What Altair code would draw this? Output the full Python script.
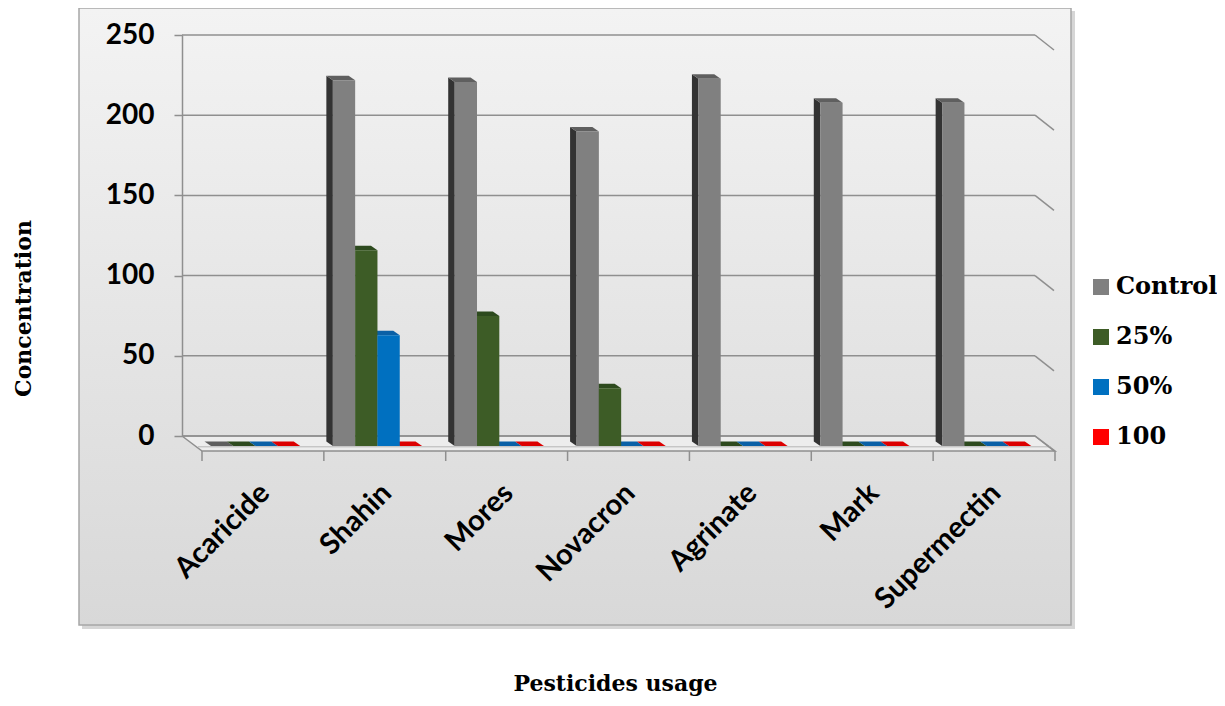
import altair as alt
import pandas as pd

# ---- data ----
categories = ["Acaricide", "Shahin", "Mores", "Novacron", "Agrinate", "Mark", "Supermectin"]
series = ["Control", "25%", "50%", "100"]
control = [0, 228, 227, 196, 229, 214, 214]
p25 = [0, 122, 81, 36, 0, 0, 0]
p50 = [0, 69, 0, 0, 0, 0, 0]
p100 = [0, 0, 0, 0, 0, 0, 0]
y_ticks = [0, 50, 100, 150, 200, 250]

front_colors = ["#808080", "#3d5c26", "#0070c0", "#ff0000"]
top_colors = ["#5f5f5f", "#2d4a1e", "#0a60a6", "#dc0000"]
side_colors = ["#333333", "#263a18", "#05477a", "#a00000"]

# ---- 3D geometry (pixel depths converted to scale units) ----
PX_X = 853 / 7.0      # px per category unit
PX_Y = 401 / 250.0    # px per value unit
bar_w = 22.3 / PX_X
grp0 = 29.0 / PX_X    # first bar front edge inside its category
side_dx = 6.5 / PX_X
side_dz = 4.5 / PX_Y
base = -10.0 / PX_Y   # front base of the bars (in front of back wall)
floor_dx = 20.0 / PX_X
floor_dz = 15.0 / PX_Y

values = [control, p25, p50, p100]
front_rows, side_rows, top_rows = [], [], []
for s, name in enumerate(series):
    for i, cat in enumerate(categories):
        v = values[s][i]
        x0 = i + grp0 + s * bar_w
        x1 = x0 + bar_w
        top = base + v
        bid = f"{s}-{i}"
        front_rows.append(dict(cat=cat, series=name, x=x0, x2=x1, y=base, y2=top))
        side_rows.append(dict(id=bid, c=side_colors[s], x=x0 - side_dx, y=base + side_dz, y2=top + side_dz))
        side_rows.append(dict(id=bid, c=side_colors[s], x=x0, y=base, y2=top))
        top_rows.append(dict(id=bid, c=top_colors[s], y=top, x=x0, x2=x1))
        top_rows.append(dict(id=bid, c=top_colors[s], y=top + side_dz, x=x0 - side_dx, x2=x1 - side_dx))

front_df = pd.DataFrame(front_rows)
side_df = pd.DataFrame(side_rows)
top_df = pd.DataFrame(top_rows)

n = len(categories)
grid_df = pd.DataFrame({"v": y_ticks})
grid_df["x"] = 0.0
grid_df["x2"] = float(n)
stub_df = pd.DataFrame({"v": y_ticks})
stub_df["x"] = float(n)
stub_df["x2"] = n + floor_dx * 0.95
stub_df["v2"] = stub_df["v"] - floor_dz

floor_df = pd.DataFrame({"y": [0.0, -floor_dz], "xl": [0.0, floor_dx], "xr": [float(n), n + floor_dx]})
floor_line = pd.DataFrame({
    "x": [0.0, float(n), n + floor_dx, floor_dx, 0.0],
    "y": [0.0, 0.0, -floor_dz, -floor_dz, 0.0],
    "o": [0, 1, 2, 3, 4],
})
front_edge = pd.DataFrame({"x": [floor_dx * 0.8], "x2": [n + floor_dx * 0.8], "y": [-floor_dz * 0.72]})
cat_ticks = pd.DataFrame({"x": [i + floor_dx for i in range(n + 1)]})
cat_ticks["y"] = -floor_dz
cat_ticks["y2"] = -floor_dz - 10.0 / PX_Y

one = pd.DataFrame({"a": [0]})

xs = alt.Scale(domain=[0, n], nice=False, zero=False)
ys = alt.Scale(domain=[0, 250], nice=False, zero=False)
GRID = "#8f8f8f"

label_expr = "[" + ",".join(f"'{c}'" for c in categories) + "][floor(datum.value)]"
XAXIS = alt.Axis(values=[i + 0.675 for i in range(n)], labelExpr=label_expr,
                 ticks=False, domain=False, grid=False, labelAngle=-45,
                 labelAlign="right", labelBaseline="middle", labelPadding=52,
                 labelFont="Lato", labelFontWeight="bold", labelFontSize=29,
                 labelColor="black", labelOverlap=False, labelFlush=False,
                 title="Pesticides usage", titleFont="DejaVu Serif",
                 titleFontWeight="bold", titleFontSize=22, titleColor="black",
                 titleX=433, titleY=254, titleAlign="center",
                 titleBaseline="alphabetic", zindex=1)
YAXIS = alt.Axis(values=y_ticks, grid=False, domain=True, domainColor=GRID,
                 domainWidth=1.5, tickSize=8, tickColor=GRID, tickWidth=1.5,
                 labelFont="Lato", labelFontWeight="bold", labelFontSize=28,
                 labelColor="black", labelPadding=20,
                 title="Concentration", titleFont="DejaVu Serif",
                 titleFontWeight="bold", titleFontSize=22, titleColor="black",
                 titleX=-159, titleY=273, titleAngle=-90, titleAlign="center",
                 titleBaseline="middle", zindex=1)


def X(f):
    return alt.X(f, scale=xs, axis=XAXIS)


def Y(f):
    return alt.Y(f, scale=ys, axis=YAXIS)


shadow = alt.Chart(one).mark_rect(color="#c4c4c4", opacity=0.7).encode(
    x=alt.value(-100), x2=alt.value(893), y=alt.value(-24), y2=alt.value(594))
box = alt.Chart(one).mark_rect(
    color=alt.Gradient(gradient="linear", x1=0, x2=0, y1=0, y2=1,
                       stops=[alt.GradientStop(color="#f3f3f3", offset=0),
                              alt.GradientStop(color="#d8d8d8", offset=1)]),
    stroke="#a6a6a6", strokeWidth=1.5).encode(
    x=alt.value(-103), x2=alt.value(889), y=alt.value(-27), y2=alt.value(590))

floor = alt.Chart(floor_df).mark_area(orient="horizontal", color="#ededed").encode(
    y=Y("y:Q"), x=X("xl:Q"), x2="xr:Q")
floor_out = alt.Chart(floor_line).mark_line(color=GRID, strokeWidth=1.5).encode(
    x=X("x:Q"), y=Y("y:Q"), order="o:Q")
front_line = alt.Chart(front_edge).mark_rule(color="#b5b5b5", strokeWidth=1).encode(
    x=X("x:Q"), x2="x2:Q", y=Y("y:Q"))
grid = alt.Chart(grid_df).mark_rule(color=GRID, strokeWidth=1.5).encode(
    x=X("x:Q"), x2="x2:Q", y=Y("v:Q"))
stubs = alt.Chart(stub_df).mark_rule(color=GRID, strokeWidth=1.5).encode(
    x=X("x:Q"), x2="x2:Q", y=Y("v:Q"), y2="v2:Q")
ticks = alt.Chart(cat_ticks).mark_rule(color=GRID, strokeWidth=1.5).encode(
    x=X("x:Q"), y=Y("y:Q"), y2="y2:Q")

sides = alt.Chart(side_df).mark_area(orient="vertical").encode(
    x=X("x:Q"), y=Y("y:Q"), y2="y2:Q",
    detail="id:N", color=alt.Color("c:N", scale=None))
tops = alt.Chart(top_df).mark_area(orient="horizontal").encode(
    y=Y("y:Q"), x=X("x:Q"), x2="x2:Q",
    detail="id:N", color=alt.Color("c:N", scale=None))

fronts = alt.Chart(front_df).mark_rect().encode(
    x=X("x:Q"), x2="x2:Q", y=Y("y:Q"), y2="y2:Q",
    color=alt.Color("series:N", scale=alt.Scale(domain=series, range=front_colors),
                    legend=alt.Legend(title=None, orient="none", legendX=907, legendY=240,
                                      symbolType="square", symbolSize=256,
                                      symbolStrokeWidth=0, labelFont="DejaVu Serif",
                                      labelFontWeight="bold", labelFontSize=24,
                                      labelColor="black", labelOffset=3, rowPadding=26)),
)

chart = alt.layer(
    shadow, box, floor, floor_out, front_line, grid, stubs, ticks, sides, tops, fronts
).properties(
    width=853, height=401,
    autosize=alt.AutoSizeParams(type="none"),
    padding={"left": 174, "top": 27, "right": 182, "bottom": 261},
).configure_view(stroke=None)

chart.save("out.html", embed_options={"renderer": "svg", "actions": False})
